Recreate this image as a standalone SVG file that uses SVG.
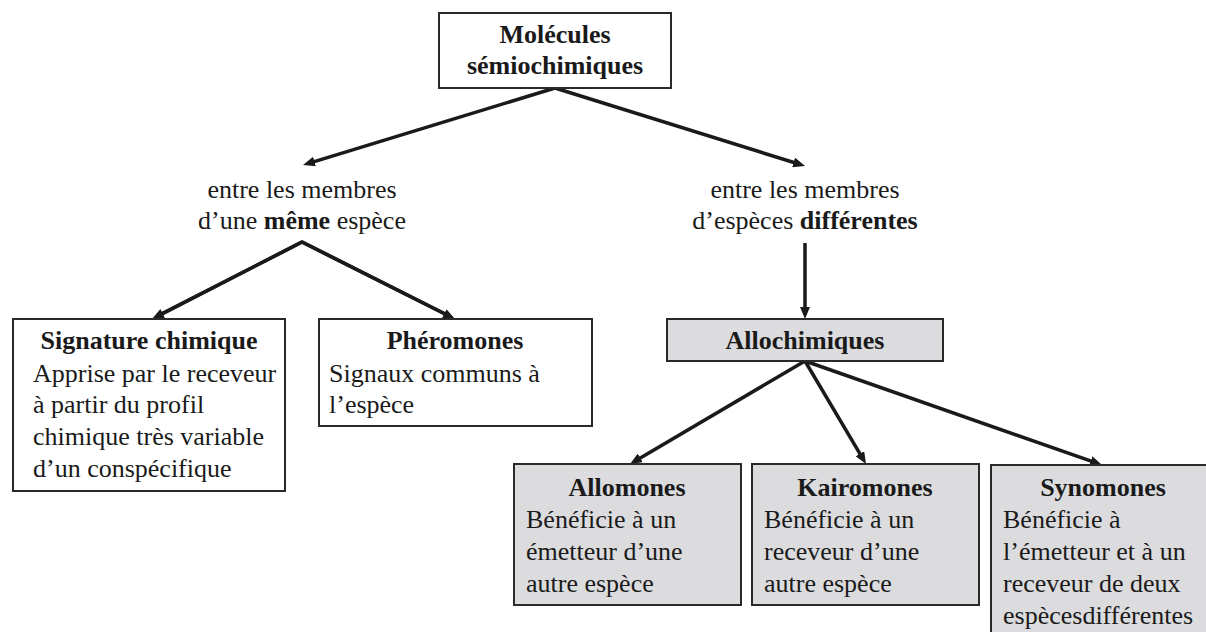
<svg xmlns="http://www.w3.org/2000/svg" width="1206" height="632" viewBox="0 0 1206 632">
<style>
text{font-family:"Liberation Serif","Times New Roman",serif;font-size:26px;fill:#1a1a1a}
.b{font-weight:bold}
.c{text-anchor:middle}
.box{fill:#fff;stroke:#2a2a2a;stroke-width:2}
.gbox{fill:#dcdcde;stroke:#2a2a2a;stroke-width:2}
.arr{stroke:#1a1a1a;stroke-width:3.5;fill:none;marker-end:url(#ah)}
.ln{stroke:#1a1a1a;stroke-width:3.5;fill:none;stroke-linejoin:miter}
</style>
<defs>
<marker id="ah" viewBox="0 0 12 10" refX="2" refY="5" markerWidth="12" markerHeight="10" markerUnits="userSpaceOnUse" orient="auto">
<path d="M0,0 L12,5 L0,10 z" fill="#1a1a1a"/>
</marker>
</defs>
<rect width="1206" height="632" fill="#fff"/>
<g id="connectors">
<line class="arr" x1="555" y1="88" x2="312.6" y2="162.1"/>
<line class="arr" x1="555" y1="88" x2="795.5" y2="163.0"/>
<path class="ln" d="M160.9,314.4 L302,242 L446.1,314.5"/>
<line class="arr" x1="302" y1="242" x2="160.9" y2="314.4"/>
<line class="arr" x1="302" y1="242" x2="446.1" y2="314.5"/>
<line class="arr" x1="805" y1="243" x2="805" y2="309"/>
<line class="arr" x1="805" y1="361" x2="638.6" y2="458.9"/>
<line class="arr" x1="805" y1="361" x2="860.9" y2="455.4"/>
<line class="arr" x1="805" y1="361" x2="1092.6" y2="461.7"/>
</g>
<g id="root">
<rect class="box" x="439" y="13" width="232" height="75"/>
<text class="b c" x="555" y="43">Molécules</text>
<text class="b c" x="555" y="74">sémiochimiques</text>
</g>
<g id="intra">
<text class="c" x="302" y="198">entre les membres</text>
<text class="c" x="302" y="229">d’une <tspan class="b">même</tspan> espèce</text>
</g>
<g id="inter">
<text class="c" x="805" y="198">entre les membres</text>
<text class="c" x="805" y="229">d’espèces <tspan class="b">différentes</tspan></text>
</g>
<g id="signature">
<rect class="box" x="13" y="319" width="272" height="172"/>
<text class="b c" x="149" y="349">Signature chimique</text>
<text x="33" y="382">Apprise par le receveur</text>
<text x="33" y="413">à partir du profil</text>
<text x="33" y="445">chimique très variable</text>
<text x="33" y="477">d’un conspécifique</text>
</g>
<g id="pheromones">
<rect class="box" x="319" y="319" width="273" height="107"/>
<text class="b c" x="455" y="349">Phéromones</text>
<text x="329" y="382">Signaux communs à</text>
<text x="329" y="413">l’espèce</text>
</g>
<g id="allochimiques">
<rect class="gbox" x="667" y="319" width="276" height="42"/>
<text class="b c" x="805" y="349">Allochimiques</text>
</g>
<g id="allomones">
<rect class="gbox" x="514" y="464" width="227" height="141"/>
<text class="b c" x="627" y="496">Allomones</text>
<text x="526" y="528">Bénéficie à un</text>
<text x="526" y="560">émetteur d’une</text>
<text x="526" y="592">autre espèce</text>
</g>
<g id="kairomones">
<rect class="gbox" x="752" y="464" width="227" height="141"/>
<text class="b c" x="865" y="496">Kairomones</text>
<text x="764" y="528">Bénéficie à un</text>
<text x="764" y="560">receveur d’une</text>
<text x="764" y="592">autre espèce</text>
</g>
<g id="synomones">
<rect class="gbox" x="991" y="465" width="227" height="180"/>
<text class="b c" x="1103" y="496">Synomones</text>
<text x="1003" y="528">Bénéficie à</text>
<text x="1003" y="560">l’émetteur et à un</text>
<text x="1003" y="592">receveur de deux</text>
<text x="1003" y="624">espècesdifférentes</text>
</g>
</svg>
